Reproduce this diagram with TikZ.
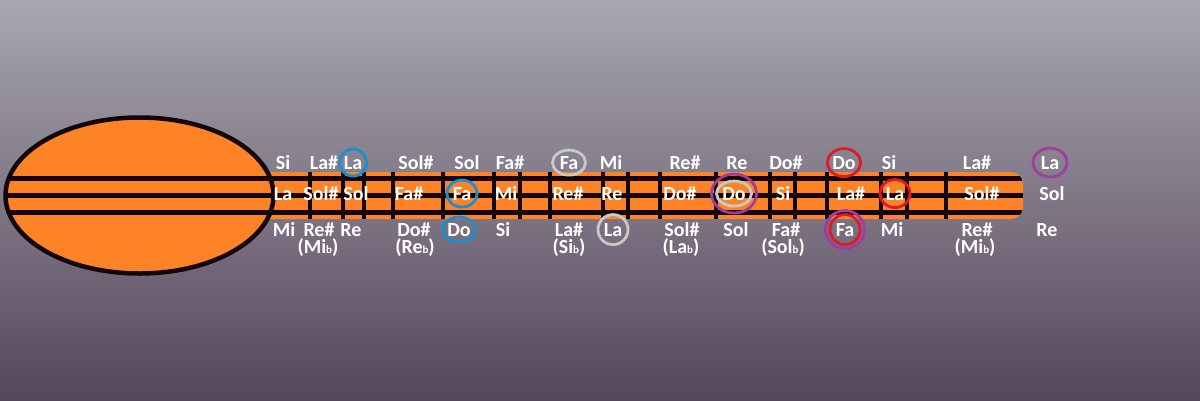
\documentclass[tikz,border=0pt]{standalone}
\usepackage{fontspec}
\setmainfont{Carlito}
\definecolor{bgtop}{RGB}{168,167,175}
\definecolor{bgmid}{RGB}{126,118,132}
\definecolor{bgbot}{RGB}{86,70,92}
\definecolor{guitar}{RGB}{253,131,38}
\definecolor{wire}{RGB}{18,6,6}
\definecolor{ringblue}{RGB}{28,142,208}
\definecolor{ringgray}{RGB}{200,200,200}
\definecolor{ringred}{RGB}{222,28,40}
\definecolor{ringpurple}{RGB}{158,62,160}
\newcommand{\flatb}{{\fontsize{11}{12}\selectfont b}}

\begin{document}
\begin{tikzpicture}[x=1pt,y=-1pt,
    note/.style={text=white,font=\fontsize{20}{24}\selectfont\bfseries,inner sep=0pt,anchor=base},
    ring/.style={line width=2.8pt}]
    \useasboundingbox (0,0) rectangle (1200,400);
    \shade[top color=bgtop, middle color=bgmid, bottom color=bgbot] (0,0) rectangle (1200,400);
    % neck and body
    \fill[guitar, rounded corners=12pt] (200,172) rectangle (1023,219);
    \filldraw[fill=guitar, draw=wire, line width=4.5pt] (139.5,195.5) ellipse [x radius=134pt, y radius=78pt];
    \begin{scope}
        \clip (139.5,195.5) ellipse [x radius=134pt, y radius=78pt];
        \foreach \y in {178,195,212} \draw[wire, line width=5pt] (0,\y) -- (300,\y);
    \end{scope}
    \begin{scope}
        \clip[rounded corners=12pt] (200,172) rectangle (1023,219);
        \foreach \y in {178,195,212} \draw[wire, line width=5pt] (200,\y) -- (1023,\y);
    \end{scope}
    % frets
    \foreach \x in {310,343,364,393,443,494,520,550,603,628,660,716,770,795,827,881,907,946}
        \draw[wire, line width=4pt] (\x,172) -- (\x,219);
    % notes
    \foreach \x/\n [count=\i] in {283/Si,324/La\#,353/La,416/Sol\#,467/Sol,510/Fa\#,569/Fa,611/Mi,
            685/Re\#,737/Re,786/Do\#,844/Do,889/Si,977/La\#,1050/La}
        \node[note] (t\i) at (\x,169) {\n};
    \foreach \x/\n [count=\i] in {283/La,321/Sol\#,356/Sol,409/Fa\#,462/Fa,506/Mi,568/Re\#,612/Re,
            680/Do\#,734/Do,783/Si,851/La\#,895/La,982/Sol\#,1052/Sol}
        \node[note] (m\i) at (\x,200) {\n};
    \foreach \x/\n [count=\i] in {284/Mi,319/Re\#,351/Re,414/Do\#,459/Do,503/Si,569/La\#,613/La,
            682/Sol\#,736/Sol,786/Fa\#,845/Fa,892/Mi,977/Re\#,1047/Re}
        \node[note] (b\i) at (\x,236) {\n};
    \foreach \x/\n [count=\i] in {318/Mi,415/Re,569/Si,681/La,783/Sol,975/Mi}
        \node[note] (s\i) at (\x,253) {(\n\flatb)};
    % rings
    \draw[ring, ringblue] (t3.center) ellipse [x radius=13.5pt, y radius=13.5pt];
    \draw[ring, ringblue] (m5.center) ellipse [x radius=15pt, y radius=13.5pt];
    \draw[ring, ringblue] (b5.center) ellipse [x radius=16.5pt, y radius=12.5pt];
    \draw[ring, ringgray] (t7.center) ellipse [x radius=16.5pt, y radius=12.5pt];
    \draw[ring, ringgray] (b8.center) ellipse [x radius=15pt, y radius=15pt];
    \draw[ring, ringgray] (m10.center) ellipse [x radius=17.5pt, y radius=12.5pt];
    \draw[ring, ringpurple] (m10.center) ellipse [x radius=22.5pt, y radius=19.5pt];
    \draw[ring, ringred] (t12.center) ellipse [x radius=16.5pt, y radius=14pt];
    \draw[ring, ringred] (m13.center) ellipse [x radius=15pt, y radius=14pt];
    \draw[ring, ringpurple] (b12.center) ellipse [x radius=19.5pt, y radius=19pt];
    \draw[ring, ringred] (b12.center) ellipse [x radius=15pt, y radius=15pt];
    \draw[ring, ringpurple] (t15.center) ellipse [x radius=17pt, y radius=14.5pt];
\end{tikzpicture}
\end{document}
